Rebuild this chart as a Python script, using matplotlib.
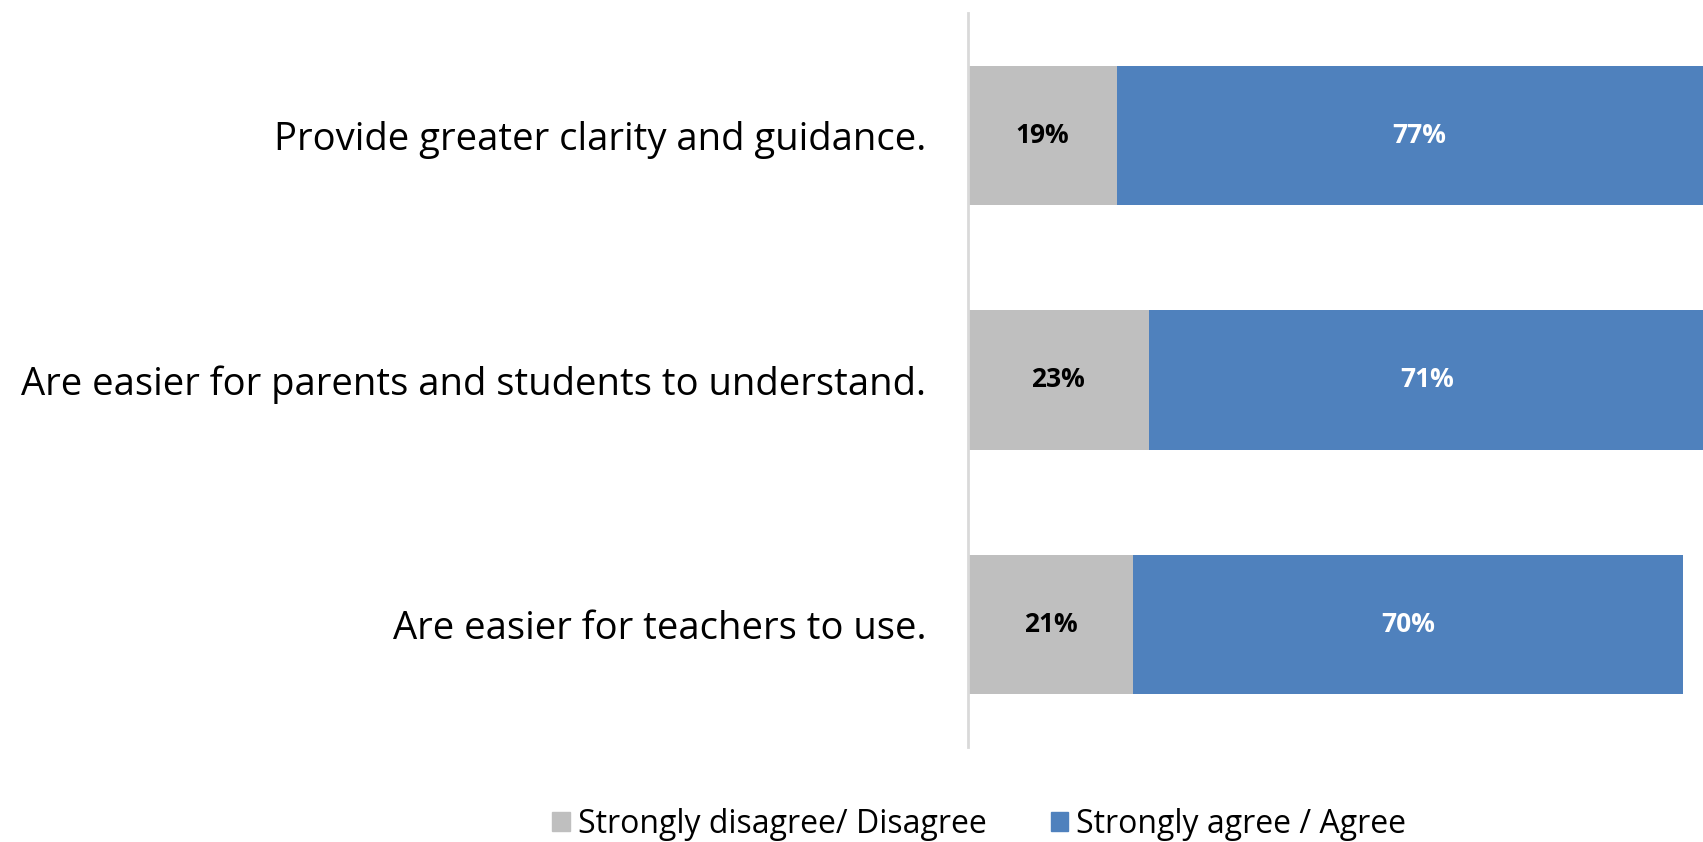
import matplotlib.pyplot as plt
from matplotlib.patches import Patch

statements = ['Provide greater clarity and guidance.',
              'Are easier for parents and students to understand.',
              'Are easier for teachers to use.']
disagree = [19, 23, 21]
agree = [77, 71, 70]
series_names = ['Strongly disagree/ Disagree', 'Strongly agree / Agree']
grey = '#BFBFBF'
blue = '#4F81BD'

plt.rcParams['font.family'] = ['Open Sans', 'DejaVu Sans']

fig = plt.figure(figsize=(17.03, 8.42), dpi=100)
ax = fig.add_axes([0.5684, 0.1128, 0.4316, 0.8718])

y = list(range(len(statements)))
ax.barh(y, disagree, height=0.57, color=grey)
ax.barh(y, agree, left=disagree, height=0.57, color=blue)

for i in y:
    ax.text(disagree[i] / 2, i, f'{disagree[i]}%', ha='center', va='center',
            fontsize=19, fontweight='bold', color='black')
    ax.text(disagree[i] + agree[i] / 2, i, f'{agree[i]}%', ha='center', va='center',
            fontsize=19, fontweight='bold', color='white')

ax.set_xlim(0, 93.6)
ax.set_ylim(len(statements) - 0.5, -0.5)
ax.set_yticks(y)
ax.set_yticklabels(statements, fontsize=27.5)
ax.tick_params(axis='y', length=0, pad=30)
ax.set_xticks([])
for side in ['top', 'right', 'bottom']:
    ax.spines[side].set_visible(False)
ax.spines['left'].set_color('#D9D9D9')
ax.spines['left'].set_linewidth(2)

handles = [Patch(color=grey), Patch(color=blue)]
fig.legend(handles, series_names, loc='lower center', bbox_to_anchor=(0.575, -0.033),
           ncol=2, frameon=False, fontsize=23, handlelength=0.55, handleheight=0.55,
           handletextpad=0.25, columnspacing=2.0)

fig.savefig('out.png', dpi=100)
